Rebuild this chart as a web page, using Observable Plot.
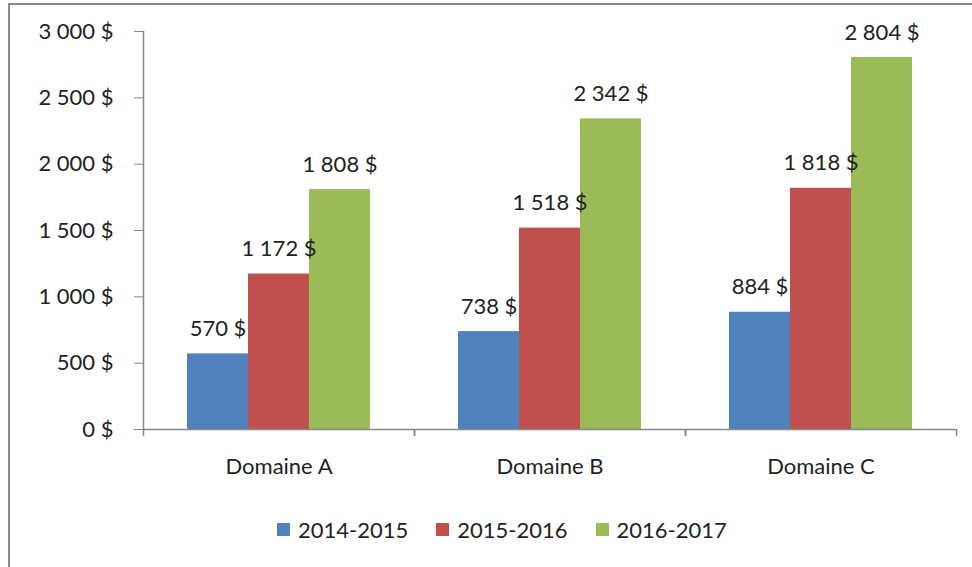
<!DOCTYPE html>
<html><head><meta charset="utf-8">
<script src="https://cdn.jsdelivr.net/npm/d3@7"></script>
<script src="https://cdn.jsdelivr.net/npm/@observablehq/plot@0.6"></script>
<style>
body{margin:0;background:#fff;font-family:Lato,sans-serif;}
#wrap{position:relative;width:972px;height:567px;overflow:hidden;background:#fff;}
#chart{position:absolute;left:0;top:0;}
#border{position:absolute;left:8px;top:3px;width:1000px;height:620px;border:2px solid #878787;box-sizing:border-box;pointer-events:none;}
#legend{position:absolute;top:516px;left:277px;display:flex;align-items:center;font-family:Lato,sans-serif;font-size:22px;color:#222;}
#legend .item{display:flex;align-items:center;margin-right:28px;}
#legend .sw{width:13px;height:13px;margin-right:8px;}
</style>
</head><body>
<div id="wrap"><div id="chart"></div><div id="legend"></div><div id="border"></div></div>
<script>
const domains = ["Domaine A", "Domaine B", "Domaine C"];
const series = ["2014-2015", "2015-2016", "2016-2017"];
const values2014 = [570, 738, 884];
const values2015 = [1172, 1518, 1818];
const values2016 = [1808, 2342, 2804];
const colors = ["#4F81BD", "#C0504D", "#9BBB59"];
const yTicks = [0, 500, 1000, 1500, 2000, 2500, 3000];

const seriesValues = [values2014, values2015, values2016];
const data = [];
domains.forEach((d, i) => series.forEach((s, j) => data.push({domain: d, series: s, value: seriesValues[j][i]})));

const fmt = v => d3.format(",")(v).replace(/,/g, " ") + " $";
const axisColor = "#868686";

const chart = Plot.plot({
  width: 972,
  height: 490,
  marginLeft: 143,
  marginRight: 16,
  marginTop: 31,
  marginBottom: 61,
  style: {fontFamily: "Lato, sans-serif", fontSize: "22px", color: "#222", background: "transparent"},
  fx: {domain: domains, padding: 0, label: null, axis: null},
  x: {domain: series, paddingInner: 0, paddingOuter: 0.72, axis: null},
  y: {domain: [0, 3000], axis: null},
  color: {domain: series, range: colors},
  marks: [
    Plot.barY(data, {fx: "domain", x: "series", y: "value", fill: "series"}),
    Plot.text(data, {fx: "domain", x: "series", y: "value", text: d => fmt(d.value), dy: -25, lineAnchor: "middle", fontSize: 22, fill: "#222"}),
    Plot.ruleY([0], {stroke: axisColor, strokeWidth: 1.5}),
    Plot.frame({anchor: "left", facetAnchor: "left", stroke: axisColor, strokeWidth: 1.5}),
    Plot.axisY({ticks: yTicks, tickFormat: fmt, tickSize: 9, tickPadding: 21, stroke: axisColor, fill: "#222", label: null, fontSize: 22}),
    Plot.axisFx({anchor: "bottom", tickSize: 0, tickPadding: 29, label: null, fill: "#222", fontSize: 22}),
    Plot.axisFx({anchor: "bottom", tickSize: 7, tickFormat: () => "", label: null, dx: -135.5, stroke: axisColor, strokeWidth: 1.5}),
    Plot.axisFx({anchor: "bottom", tickSize: 7, tickFormat: () => "", label: null, dx: 135.5, stroke: axisColor, strokeWidth: 1.5})
  ]
});
document.getElementById("chart").appendChild(chart);

const legend = document.getElementById("legend");
series.forEach((s, i) => {
  const item = document.createElement("div");
  item.className = "item";
  const sw = document.createElement("div");
  sw.className = "sw";
  sw.style.background = colors[i];
  const lab = document.createElement("span");
  lab.textContent = s;
  item.appendChild(sw);
  item.appendChild(lab);
  legend.appendChild(item);
});
</script>
</body></html>
